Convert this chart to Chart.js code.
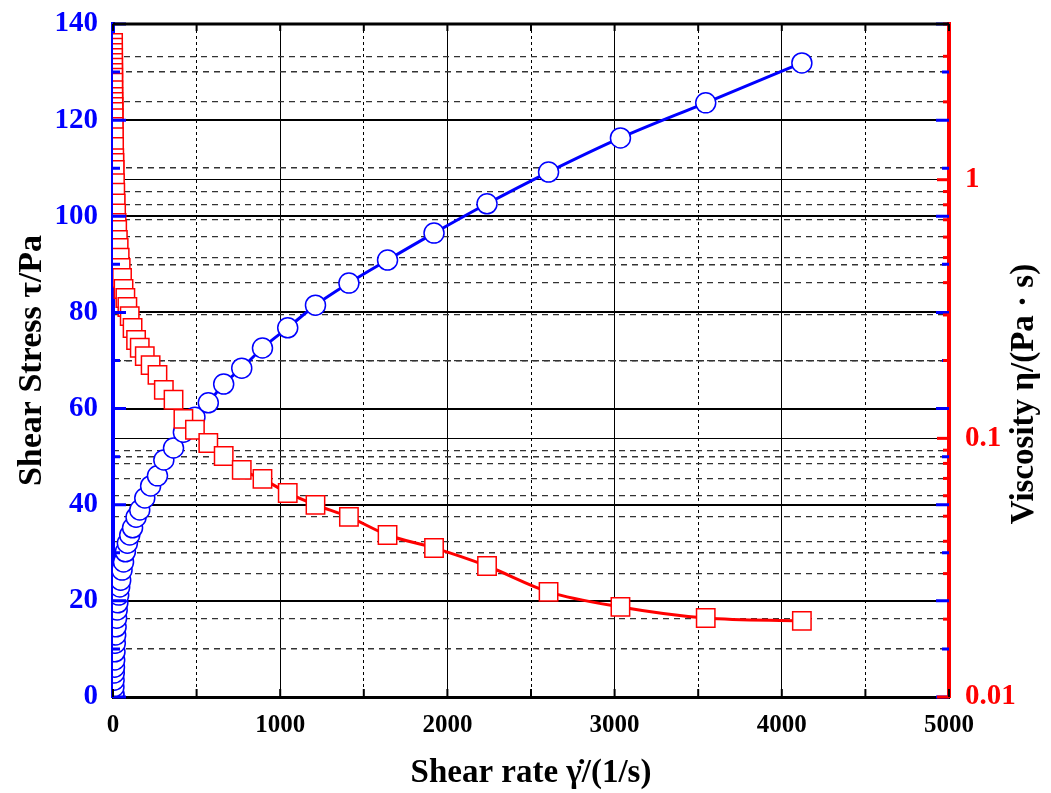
<!DOCTYPE html>
<html>
<head>
<meta charset="utf-8">
<script src="https://cdn.jsdelivr.net/npm/chart.js@4/dist/chart.umd.min.js"></script>
<style>
  html, body { margin: 0; padding: 0; background: #fff; }
  #wrap { width: 1051px; height: 793px; position: relative; }
</style>
</head>
<body>
<div id="wrap"><canvas id="grafico"></canvas></div>
<script>
// shear rate (1/s), shared by both series
const shearRate = [0.45, 0.53, 0.62, 0.73, 0.85, 1.0, 1.2, 1.4, 1.6, 1.9,
  2.2, 2.6, 3.0, 3.5, 4.0, 4.7, 5.5, 6.4, 7.5, 8.7,
  10.1, 11.8, 13.7, 16, 18.5, 21.5, 25, 29, 34, 40,
  46, 54, 63, 74, 86, 100, 117, 138, 160, 190,
  225, 266, 304, 362, 421, 490, 570, 662, 770, 894,
  1045, 1211, 1411, 1642, 1920, 2237, 2605, 3035, 3545, 4120];

// shear stress tau (Pa)
const shearStress = [0.05, 0.06, 0.08, 0.1, 0.12, 0.14, 0.17, 0.2, 0.24, 0.28,
  0.33, 0.4, 0.47, 0.55, 0.65, 0.8, 2.1, 3.5, 5.0, 6.2,
  7.7, 9.4, 11.2, 12.9, 14.6, 16.4, 18.1, 19.6, 21.2, 22.9,
  24.3, 26.4, 28.1, 30.2, 32.0, 33.7, 35.2, 37.4, 38.9, 41.4,
  43.9, 46.0, 49.3, 51.8, 55.1, 58.2, 61.2, 65.1, 68.4, 72.6,
  76.8, 81.5, 86.1, 90.9, 96.5, 102.6, 109.2, 116.3, 123.6, 131.9];

// viscosity eta (Pa·s)
const viscosity = [3.38, 3.24, 3.09, 2.96, 2.83, 2.71, 2.59, 2.48, 2.37, 2.22,
  2.09, 2.00, 1.91, 1.83, 1.73, 1.60, 1.46, 1.34, 1.21, 1.16,
  1.09, 0.97, 0.89, 0.81, 0.74, 0.68, 0.64, 0.585, 0.545, 0.50,
  0.456, 0.417, 0.378, 0.349, 0.322, 0.297, 0.267, 0.240, 0.224, 0.208,
  0.192, 0.176, 0.154, 0.141, 0.119, 0.108, 0.096, 0.0855, 0.0755, 0.0697,
  0.0615, 0.0553, 0.0497, 0.0423, 0.0377, 0.0321, 0.0255, 0.0223, 0.0202, 0.0197];

// tick values for the log axis and the labelled ones
const viscTicks = [0.01, 0.02, 0.03, 0.04, 0.05, 0.06, 0.07, 0.08, 0.09,
  0.1, 0.2, 0.3, 0.4, 0.5, 0.6, 0.7, 0.8, 0.9, 1, 2, 3, 4];
const viscLabels = [0.01, 0.1, 1];

const SERIF = '"Liberation Serif", "Times New Roman", serif';
const BLUE = '#0000ff';
const RED = '#ff0000';

const isDecade = v => viscLabels.some(d => Math.abs(d - v) < 1e-9);

// ticks pointing inwards + top frame + right title
const marcoPlugin = {
  id: 'marco',
  afterDatasetsDraw(chart) {
    const {ctx, chartArea: a, scales} = chart;
    ctx.save();
    ctx.lineCap = 'butt';
    // left axis ticks (both sides)
    ctx.strokeStyle = BLUE;
    ctx.lineWidth = 3;
    scales.y.ticks.forEach(t => {
      const py = scales.y.getPixelForValue(t.value);
      const len = t.value % 20 === 0 ? 13 : 7;
      ctx.beginPath();
      ctx.moveTo(a.left, py); ctx.lineTo(a.left + len, py);
      ctx.moveTo(a.right - len, py); ctx.lineTo(a.right, py);
      ctx.stroke();
    });
    // right log axis ticks
    ctx.strokeStyle = RED;
    scales.y2.ticks.forEach(t => {
      const py = scales.y2.getPixelForValue(t.value);
      const len = isDecade(t.value) ? 12 : 6;
      ctx.beginPath();
      ctx.moveTo(a.right - len, py); ctx.lineTo(a.right, py);
      ctx.stroke();
    });
    // x ticks top and bottom
    ctx.strokeStyle = '#000';
    ctx.lineWidth = 2;
    scales.x.ticks.forEach(t => {
      const px = scales.x.getPixelForValue(t.value);
      ctx.beginPath();
      ctx.moveTo(px, a.bottom); ctx.lineTo(px, a.bottom - 8);
      ctx.moveTo(px, a.top); ctx.lineTo(px, a.top + 7);
      ctx.stroke();
    });
    // top frame
    ctx.lineWidth = 3;
    ctx.beginPath();
    ctx.moveTo(a.left, a.top); ctx.lineTo(a.right, a.top);
    ctx.stroke();
    ctx.restore();
  },
  afterDraw(chart) {
    const {ctx} = chart;
    ctx.save();
    ctx.translate(1024, 394);
    ctx.rotate(-Math.PI / 2);
    ctx.fillStyle = '#000';
    ctx.font = 'bold 33px ' + SERIF;
    ctx.textAlign = 'center';
    ctx.textBaseline = 'middle';
    ctx.fillText('Viscosity \u03b7/(Pa \u00b7 s)', 0, 0);
    ctx.restore();
  }
};

const ctx = document.getElementById('grafico').getContext('2d');

new Chart(ctx, {
  type: 'line',
  data: {
    datasets: [{
      label: 'Viscosity',
      data: shearRate.map((r, i) => ({x: r, y: viscosity[i]})),
      yAxisID: 'y2',
      borderColor: RED,
      borderWidth: 3,
      pointStyle: 'rect',
      pointRadius: 13,
      pointBorderWidth: 1.5,
      pointBorderColor: RED,
      pointBackgroundColor: '#fff',
      cubicInterpolationMode: 'monotone',
      fill: false
    }, {
      label: 'Shear stress',
      data: shearRate.map((r, i) => ({x: r, y: shearStress[i]})),
      yAxisID: 'y',
      borderColor: BLUE,
      borderWidth: 3,
      pointStyle: 'circle',
      pointRadius: 10,
      pointBorderWidth: 1.5,
      pointBorderColor: BLUE,
      pointBackgroundColor: '#fff',
      cubicInterpolationMode: 'monotone',
      fill: false
    }]
  },
  options: {
    responsive: true,
    maintainAspectRatio: false,
    animation: false,
    layout: { padding: { top: 24, left: 0, right: 0, bottom: 0 } },
    plugins: { legend: { display: false }, tooltip: { enabled: false } },
    scales: {
      x: {
        type: 'linear',
        min: 0, max: 5000,
        afterFit: s => { s.height = 96; s.paddingLeft = 0; s.paddingRight = 0; },
        ticks: {
          stepSize: 500, autoSkip: false, maxRotation: 0, padding: 14,
          color: '#000',
          font: { family: SERIF, size: 25, weight: 'bold' },
          callback: v => (v % 1000 === 0 ? String(v) : '')
        },
        grid: {
          drawTicks: false,
          color: '#000',
          lineWidth: 1
        },
        border: {
          display: true, color: '#000', width: 3,
          dash: c => (c.tick && c.tick.value % 1000 !== 0 ? [3, 3] : [])
        },
        title: {
          display: true,
          text: 'Shear rate \u03b3\u0307/(1/s)',
          color: '#000',
          font: { family: SERIF, size: 33, weight: 'bold' },
          padding: { top: 0, bottom: 0 }
        }
      },
      y: {
        type: 'linear',
        position: 'left',
        min: 0, max: 140,
        afterFit: s => { s.width = 113; s.paddingTop = 0; s.paddingBottom = 0; },
        ticks: {
          stepSize: 10, autoSkip: false, padding: 15,
          color: BLUE,
          font: { family: SERIF, size: 29, weight: 'bold' },
          callback: v => (v % 20 === 0 ? String(v) : '')
        },
        grid: {
          drawTicks: false,
          color: c => (c.tick && c.tick.value % 20 === 0 ? '#000' : '#333'),
          lineWidth: c => (c.tick && c.tick.value % 20 === 0 ? 2 : 1.5)
        },
        border: {
          display: true, color: BLUE, width: 4,
          dash: c => (c.tick && c.tick.value % 20 !== 0 ? [6, 5] : [])
        },
        title: {
          display: true,
          text: 'Shear Stress \u03c4/Pa',
          color: '#000',
          font: { family: SERIF, size: 34, weight: 'bold' },
          padding: { top: 12, bottom: 0 }
        }
      },
      y2: {
        type: 'logarithmic',
        position: 'right',
        min: 0.01, max: 4,
        afterFit: s => { s.width = 102; s.paddingTop = 0; s.paddingBottom = 0; },
        afterBuildTicks: s => { s.ticks = viscTicks.map(v => ({value: v})); },
        ticks: {
          autoSkip: false, padding: 16,
          color: RED,
          font: { family: SERIF, size: 29, weight: 'bold' },
          callback: v => (isDecade(v) ? String(v) : '')
        },
        grid: {
          drawTicks: false,
          color: c => (c.tick && isDecade(c.tick.value) ? '#000' : '#333'),
          lineWidth: c => (c.tick && isDecade(c.tick.value) ? 1 : 1.3)
        },
        border: {
          display: true, color: RED, width: 4,
          dash: c => (c.tick && !isDecade(c.tick.value) ? [6, 5] : [])
        },
        title: { display: false }
      }
    }
  },
  plugins: [marcoPlugin]
});
</script>
</body>
</html>
